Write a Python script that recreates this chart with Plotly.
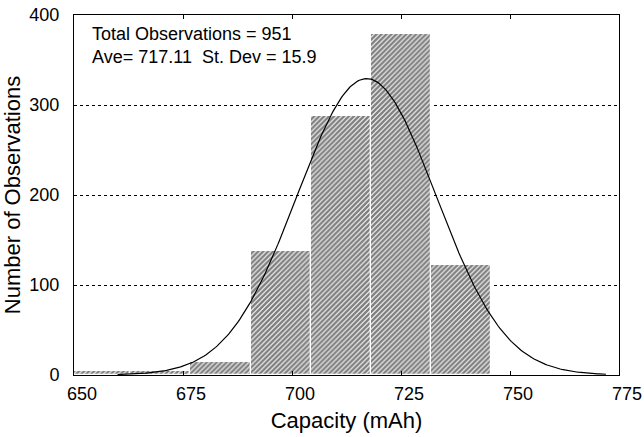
import numpy as np
import plotly.graph_objects as go

# Histogram bins (capacity, mAh) and counts
bin_left = [649.1, 662.9, 676.7, 690.5, 704.3, 718.1, 731.9]
bin_width = 13.8
counts = [5, 4, 15, 138, 288, 379, 122]

# Summary statistics shown on the chart
n_obs = 951
mean_cap = 717.11
sd_cap = 15.9

x_ticks = [650, 675, 700, 725, 750, 775]
y_ticks = [0, 100, 200, 300, 400]

centers = [b + bin_width / 2 for b in bin_left]

# Fitted normal curve from the stated statistics
xc = np.linspace(660, 772, 300)
yc = n_obs * bin_width / (sd_cap * np.sqrt(2 * np.pi)) * np.exp(-0.5 * ((xc - mean_cap) / sd_cap) ** 2)

fig = go.Figure()
fig.add_trace(go.Bar(
    x=centers, y=counts, width=[bin_width] * len(counts),
    marker=dict(color="white", line=dict(color="white", width=1.2),
                pattern=dict(shape="/", fgcolor="black", bgcolor="white", size=3.5, solidity=0.7)),
    showlegend=False,
))
fig.add_trace(go.Scatter(x=xc, y=yc, mode="lines", line=dict(color="black", width=1.2), showlegend=False))

font = dict(family="Liberation Sans, Arial, sans-serif", size=18, color="black")
fig.update_layout(
    width=644, height=437,
    margin=dict(l=74, r=25, t=15, b=62, autoexpand=False),
    paper_bgcolor="white", plot_bgcolor="white",
    font=font, bargap=0,
    xaxis=dict(range=[650, 775], tickvals=x_ticks, ticks="inside", ticklen=4, tickcolor="black",
               showline=True, linecolor="black", linewidth=1, mirror="ticks", showgrid=False,
               zeroline=False, title=dict(text="Capacity (mAh)", standoff=10), ticklabelshift=8,
               ticklabelstandoff=2, automargin=False),
    yaxis=dict(range=[0, 400], tickvals=y_ticks, ticks="", showline=True, linecolor="black", linewidth=1,
               mirror=True, showgrid=True, gridcolor="black", griddash="dot", gridwidth=1,
               zeroline=False, title=dict(text="Number of Observations", standoff=3),
               ticklabelstandoff=10, automargin=False),
    annotations=[
        dict(x=0.03, y=0.98, xref="paper", yref="paper", xanchor="left", yanchor="top",
             align="left", showarrow=False, font=font,
             text=f"Total Observations = {n_obs}<br>Ave= {mean_cap}&nbsp;&nbsp;St. Dev = {sd_cap}"),
    ],
)
fig.write_html("out.html")
